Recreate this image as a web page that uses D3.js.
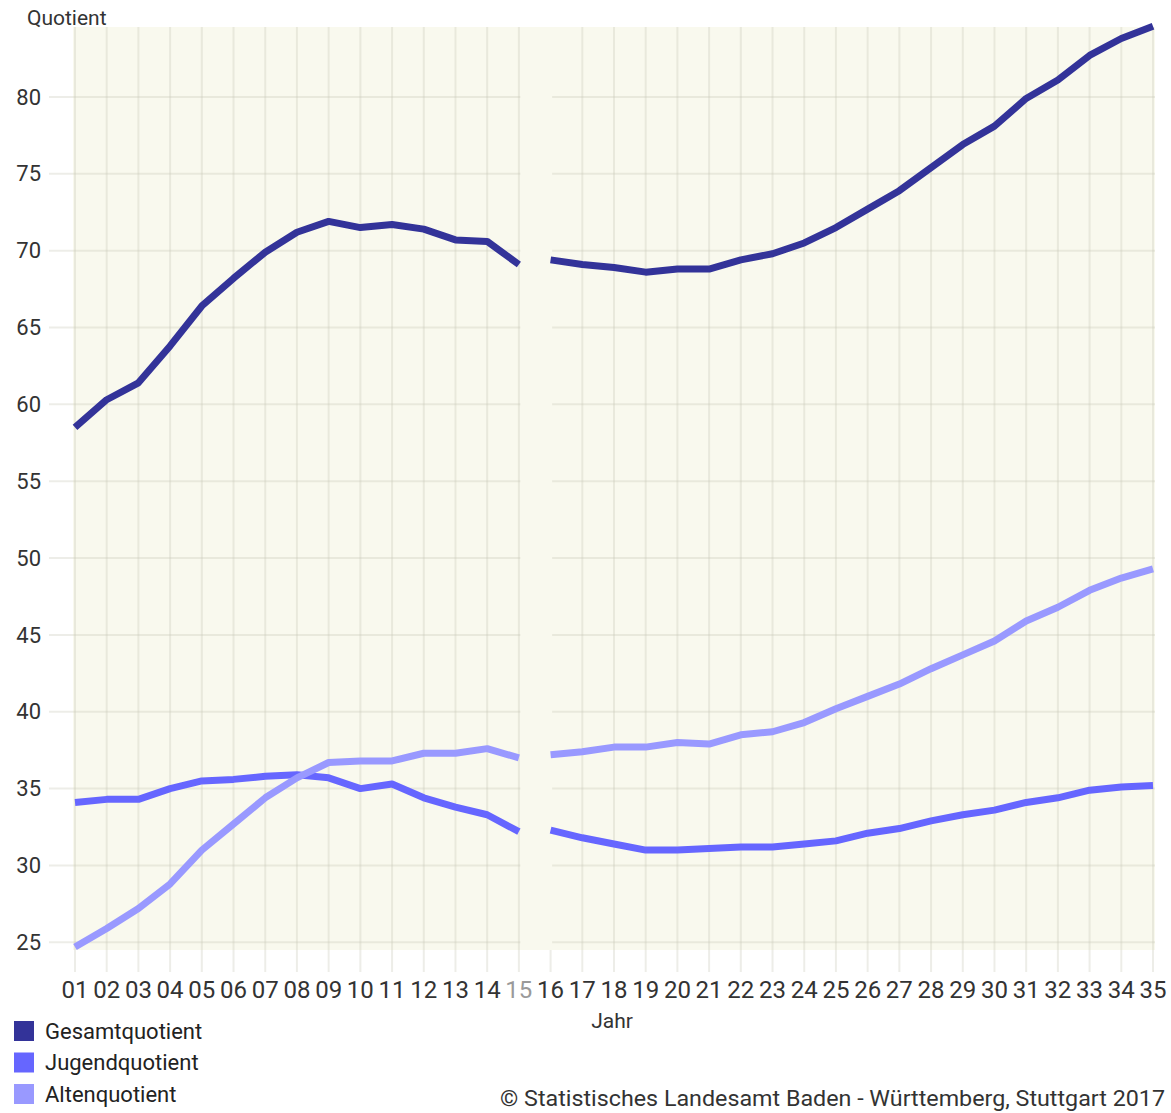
<!DOCTYPE html>
<html>
<head>
<meta charset="utf-8">
<script src="https://cdn.jsdelivr.net/npm/d3@7"></script>
<style>
  body { margin: 0; background: #fff; }
  text { font-family: Roboto, "Noto Sans", sans-serif; }
</style>
</head>
<body>
<div id="chart"></div>
<script>
// Jahre (01 = 2001 ... 35 = 2035)
var jahre = ["01","02","03","04","05","06","07","08","09","10","11","12","13","14","15",
             "16","17","18","19","20","21","22","23","24","25","26","27","28","29","30",
             "31","32","33","34","35"];
var yTicks = [25, 30, 35, 40, 45, 50, 55, 60, 65, 70, 75, 80];
var bruchNach = "15";  // Linien nach 15 unterbrochen

var gesamt = [58.5, 60.3, 61.4, 63.8, 66.4, 68.2, 69.9, 71.2, 71.9, 71.5, 71.7, 71.4, 70.7, 70.6, 69.1,
              69.4, 69.1, 68.9, 68.6, 68.8, 68.8, 69.4, 69.8, 70.5, 71.5, 72.7, 73.9, 75.4, 76.9, 78.1,
              79.9, 81.1, 82.7, 83.8, 84.6];
var jugend = [34.1, 34.3, 34.3, 35.0, 35.5, 35.6, 35.8, 35.9, 35.7, 35.0, 35.3, 34.4, 33.8, 33.3, 32.2,
              32.3, 31.8, 31.4, 31.0, 31.0, 31.1, 31.2, 31.2, 31.4, 31.6, 32.1, 32.4, 32.9, 33.3, 33.6,
              34.1, 34.4, 34.9, 35.1, 35.2];
var alten  = [24.7, 25.9, 27.2, 28.8, 31.0, 32.7, 34.4, 35.7, 36.7, 36.8, 36.8, 37.3, 37.3, 37.6, 37.0,
              37.2, 37.4, 37.7, 37.7, 38.0, 37.9, 38.5, 38.7, 39.3, 40.2, 41.0, 41.8, 42.8, 43.7, 44.6,
              45.9, 46.8, 47.9, 48.7, 49.3];

var serien = [
    { name: "Gesamtquotient", werte: gesamt, farbe: "#333399" },
    { name: "Jugendquotient", werte: jugend, farbe: "#6666ff" },
    { name: "Altenquotient",  werte: alten,  farbe: "#9999ff" }
];

var width = 1171, height = 1113;
var plot = { left: 73, right: 1155, top: 27, bottom: 950 };

var svg = d3.select("#chart").append("svg")
    .attr("width", width)
    .attr("height", height);

var x = d3.scalePoint()
    .domain(jahre)
    .range([75, 1153]);

var y = d3.scaleLinear()
    .domain([24.5, 84.55])
    .range([plot.bottom, plot.top]);

// Hintergrund
svg.append("rect")
    .attr("x", plot.left).attr("y", plot.top)
    .attr("width", plot.right - plot.left)
    .attr("height", plot.bottom - plot.top)
    .attr("fill", "#f9f9ee");

// vertikale Gitterlinien (reichen unter die Fläche)
svg.append("g").selectAll("line")
    .data(jahre)
    .enter().append("line")
    .attr("x1", function (d) { return x(d); })
    .attr("x2", function (d) { return x(d); })
    .attr("y1", plot.top)
    .attr("y2", 972)
    .attr("stroke", "#c8c8b8")
    .attr("stroke-opacity", 0.32)
    .attr("stroke-width", 2);

// horizontale Gitterlinien
svg.append("g").selectAll("line")
    .data(yTicks)
    .enter().append("line")
    .attr("x1", 49)
    .attr("x2", plot.right)
    .attr("y1", function (d) { return y(d); })
    .attr("y2", function (d) { return y(d); })
    .attr("stroke", "#c8c8b8")
    .attr("stroke-opacity", 0.32)
    .attr("stroke-width", 2);

// Lücke zwischen 15 und 16
var i15 = jahre.indexOf(bruchNach);
svg.append("rect")
    .attr("x", x(jahre[i15]) + 1.5)
    .attr("y", plot.top)
    .attr("width", x(jahre[i15 + 1]) - x(jahre[i15]))
    .attr("height", plot.bottom - plot.top)
    .attr("fill", "#f9f9ee");

// y-Achse Beschriftung
svg.append("g").selectAll("text")
    .data(yTicks)
    .enter().append("text")
    .attr("x", 41)
    .attr("y", function (d) { return y(d); })
    .attr("dy", "0.35em")
    .attr("text-anchor", "end")
    .attr("font-size", 22)
    .attr("fill", "#333")
    .text(function (d) { return d; });

svg.append("text")
    .attr("x", 27).attr("y", 25)
    .attr("font-size", 21)
    .attr("fill", "#333")
    .text("Quotient");

// x-Achse Beschriftung
svg.append("g").selectAll("text")
    .data(jahre)
    .enter().append("text")
    .attr("x", function (d) { return x(d); })
    .attr("y", 998)
    .attr("text-anchor", "middle")
    .attr("font-size", 23)
    .attr("textLength", 27)
    .attr("lengthAdjust", "spacingAndGlyphs")
    .attr("fill", function (d) { return d === bruchNach ? "#9a9a9a" : "#333"; })
    .text(function (d) { return d; });

svg.append("text")
    .attr("x", 612).attr("y", 1028)
    .attr("text-anchor", "middle")
    .attr("font-size", 21)
    .attr("fill", "#333")
    .text("Jahr");

// Linien
var line = d3.line()
    .x(function (d) { return x(d[0]); })
    .y(function (d) { return y(d[1]); });

serien.forEach(function (s) {
    var punkte = jahre.map(function (j, i) { return [j, s.werte[i]]; });
    var teile = [punkte.slice(0, i15 + 1), punkte.slice(i15 + 1)];
    teile.forEach(function (t) {
        svg.append("path")
            .datum(t)
            .attr("d", line)
            .attr("fill", "none")
            .attr("stroke", s.farbe)
            .attr("stroke-width", 7)
            .attr("stroke-linejoin", "round")
            .attr("stroke-linecap", "butt");
    });
});

// Legende
var legende = svg.append("g").selectAll("g")
    .data(serien)
    .enter().append("g")
    .attr("transform", function (d, i) { return "translate(14," + (1021 + i * 31.5) + ")"; });
legende.append("rect")
    .attr("width", 20).attr("height", 20)
    .attr("fill", function (d) { return d.farbe; });
legende.append("text")
    .attr("x", 31).attr("y", 10)
    .attr("dy", "0.35em")
    .attr("font-size", 22)
    .attr("fill", "#222")
    .text(function (d) { return d.name; });

svg.append("text")
    .attr("x", 1165).attr("y", 1106)
    .attr("text-anchor", "end")
    .attr("font-size", 22)
    .attr("textLength", 665)
    .attr("lengthAdjust", "spacingAndGlyphs")
    .attr("fill", "#333")
    .text("© Statistisches Landesamt Baden - Württemberg, Stuttgart 2017");
</script>
</body>
</html>
